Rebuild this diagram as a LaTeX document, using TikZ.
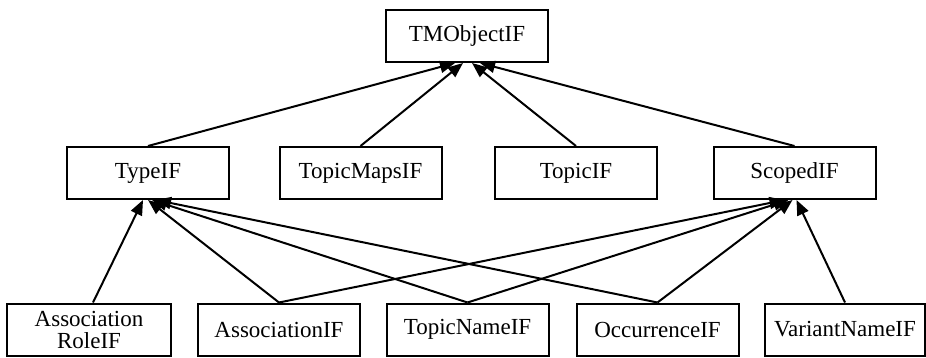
\documentclass[tikz,border=0pt]{standalone}
\usepackage{fontspec}
\setmainfont{Liberation Serif}
\usetikzlibrary{arrows.meta}
\begin{document}
\begin{tikzpicture}[x=1pt,y=1pt,
  cls/.style={draw=black, line width=2pt, fill=white, minimum width=162pt,
    minimum height=52pt, inner sep=0pt, align=center,
    font=\fontsize{23}{24}\selectfont},
  inh/.style={line width=2pt, -{Triangle[length=15pt,width=12pt]}}]
\useasboundingbox (0,0) rectangle (926,357);
% top level
\node[cls] (tmo) at (467,321) {TMObjectIF};
% middle row
\node[cls] (type)   at (148,184)   {TypeIF};
\node[cls] (tmaps)  at (360.5,184) {TopicMapsIF};
\node[cls] (topic)  at (576,184)   {TopicIF};
\node[cls] (scoped) at (794.5,184) {ScopedIF};
% bottom row
\node[cls, minimum width=164pt] (arole) at (89,27.5) {Association\\[-2pt]RoleIF};
\node[cls] (assoc)  at (279,27.5)   {AssociationIF};
\node[cls] (tname)  at (467.5,27.5) {TopicNameIF};
\node[cls] (occ)    at (657.5,27.5) {OccurrenceIF};
\node[cls, minimum width=160pt] (vname) at (845,27.5) {VariantNameIF};
% inheritance edges to TMObjectIF
\draw[inh] (type.north)   -- ([xshift=-12pt]tmo.south);
\draw[inh] (tmaps.north)  -- ([xshift=-4pt]tmo.south);
\draw[inh] (topic.north)  -- ([xshift=5pt]tmo.south);
\draw[inh] (scoped.north) -- ([xshift=13pt]tmo.south);
% inheritance edges to TypeIF
\draw[inh] ([xshift=4pt]arole.north) -- ([xshift=-5pt]type.south);
\draw[inh] (assoc.north) -- ([xshift=0pt]type.south);
\draw[inh] (tname.north) -- ([xshift=4pt]type.south);
\draw[inh] (occ.north)   -- ([xshift=8pt]type.south);
% inheritance edges to ScopedIF
\draw[inh] (assoc.north) -- ([xshift=-10pt]scoped.south);
\draw[inh] (tname.north) -- ([xshift=-6pt]scoped.south);
\draw[inh] (occ.north)   -- ([xshift=-2pt]scoped.south);
\draw[inh] (vname.north) -- ([xshift=2pt]scoped.south);
\end{tikzpicture}
\end{document}
